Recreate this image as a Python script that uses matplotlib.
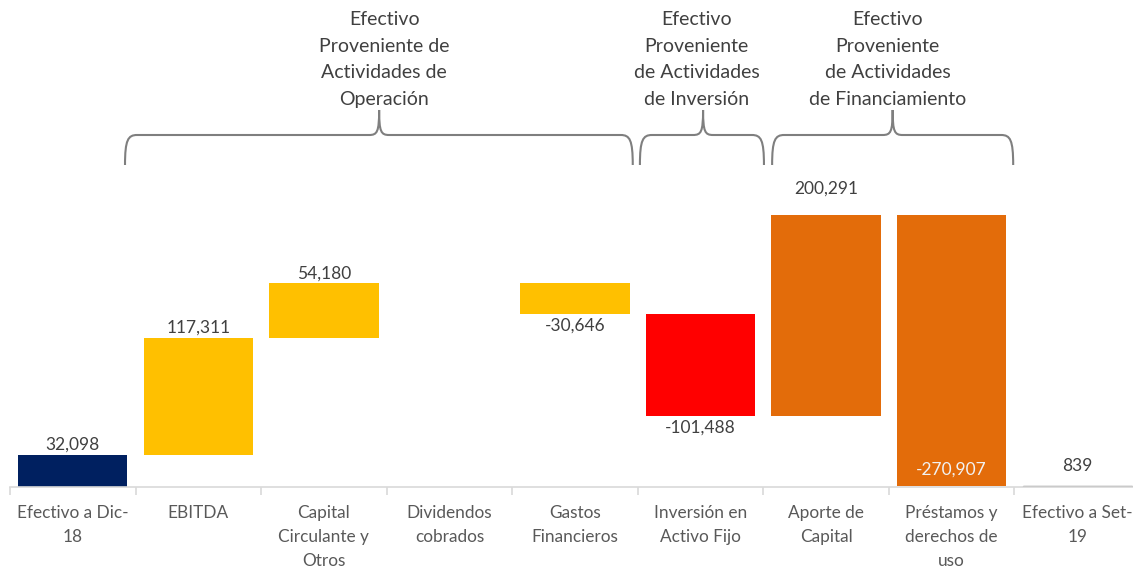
import matplotlib
matplotlib.use("Agg")
import matplotlib.pyplot as plt
from matplotlib.path import Path
from matplotlib.patches import PathPatch
from matplotlib.transforms import blended_transform_factory
import numpy as np

plt.rcParams['font.family'] = ['Lato', 'DejaVu Sans']

categories = ["Efectivo a Dic-\n18", "EBITDA", "Capital\nCirculante y\nOtros",
              "Dividendos\ncobrados", "Gastos\nFinancieros", "Inversión en\nActivo Fijo",
              "Aporte de\nCapital", "Préstamos y\nderechos de\nuso", "Efectivo a Set-\n19"]
values = [32098, 117311, 54180, 0, -30646, -101488, 200291, -270907, 839]
is_total = [True, False, False, False, False, False, False, False, True]
value_labels = ["32,098", "117,311", "54,180", "", "-30,646", "-101,488", "200,291", "-270,907", "839"]

groups = ["Efectivo\nProveniente de\nActividades de\nOperación",
          "Efectivo\nProveniente\nde Actividades\nde Inversión",
          "Efectivo\nProveniente\nde Actividades\nde Financiamiento"]

colors = ["#002060", "#FFC000", "#FFC000", "#FFC000", "#FFC000", "#FF0000",
          "#E36C0A", "#E36C0A", "#808080"]

W, H = 1133, 568
fig = plt.figure(figsize=(W / 100, H / 100), dpi=100)
ax = fig.add_axes([10 / W, 81 / H, 1130 / W, 487 / H])
ax.set_xlim(-0.5, 8.5)
ax.set_ylim(0, 487000)

x = np.arange(len(categories))
bottoms, heights = [], []
run = 0
for v, t in zip(values, is_total):
    if t:
        bottoms.append(0); heights.append(v); run = v
    else:
        bottoms.append(min(run, run + v)); heights.append(abs(v)); run += v

bars = ax.bar(x, heights, bottom=bottoms, width=0.87, color=colors, zorder=2)
bars[-1].set_edgecolor("#808080")
bars[-1].set_linewidth(1.0)

# data labels
for i, (v, t, lab) in enumerate(zip(values, is_total, value_labels)):
    if not lab:
        continue
    top = bottoms[i] + heights[i]
    bot = bottoms[i]
    if i == 7:
        ax.annotate(lab, (x[i], bot), xytext=(0, 17), textcoords="offset pixels",
                    ha="center", va="center", fontsize=12.5, color="#F2F2F2")
    elif v >= 0:
        off = 27 if i == 6 else (20 if i == 8 else 10)
        ax.annotate(lab, (x[i], top), xytext=(0, off), textcoords="offset pixels",
                    ha="center", va="center", fontsize=12.5, color="#404040")
    else:
        ax.annotate(lab, (x[i], bot), xytext=(0, -12), textcoords="offset pixels",
                    ha="center", va="center", fontsize=12.5, color="#404040")

for s in ["top", "left", "right"]:
    ax.spines[s].set_visible(False)
ax.spines["bottom"].set_color("#D9D9D9")
ax.spines["bottom"].set_linewidth(1.2)
ax.set_yticks([])
ax.set_xticks(x)
ax.set_xticklabels(categories, fontsize=12.4, color="#595959", linespacing=1.62, va="top")
ax.tick_params(axis="x", which="major", length=0, pad=13)
ax.set_xticks(np.arange(-0.5, 9, 1), minor=True)
ax.tick_params(axis="x", which="minor", length=6, color="#D9D9D9", width=1.2)

# braces
tr = blended_transform_factory(ax.transData, fig.transFigure)

def brace(x0, x1, xc, yb=165, yh=135, yt=110):
    def fy(p):
        return 1 - p / H
    u = 1 / 125.56
    verts = [
        (x0, fy(yb)),
        (x0, fy(yh + 5)), (x0 + 3 * u, fy(yh)), (x0 + 12 * u, fy(yh)),
        (xc - 10 * u, fy(yh)),
        (xc - 2 * u, fy(yh)), (xc, fy(yh - 3)), (xc, fy(yt)),
        (xc, fy(yh - 3)), (xc + 2 * u, fy(yh)), (xc + 10 * u, fy(yh)),
        (x1 - 12 * u, fy(yh)),
        (x1 - 3 * u, fy(yh)), (x1, fy(yh + 5)), (x1, fy(yb)),
    ]
    codes = [Path.MOVETO,
             Path.CURVE4, Path.CURVE4, Path.CURVE4,
             Path.LINETO,
             Path.CURVE4, Path.CURVE4, Path.CURVE4,
             Path.CURVE4, Path.CURVE4, Path.CURVE4,
             Path.LINETO,
             Path.CURVE4, Path.CURVE4, Path.CURVE4]
    p = PathPatch(Path(verts, codes), transform=tr, fill=False,
                  edgecolor="#7F7F7F", lw=1.5, clip_on=False)
    ax.add_artist(p)

brace(0.416, 4.46, 2.44)
brace(4.517, 5.505, 5.02)
brace(5.57, 7.49, 6.53)

text_x = [2.48, 4.97, 6.49]
for g, tx in zip(groups, text_x):
    ax.text(tx, 1 - 11 / H, g, transform=tr, ha="center", va="top",
            fontsize=14, color="#404040", linespacing=1.68)

fig.savefig("out.png", dpi=100)
